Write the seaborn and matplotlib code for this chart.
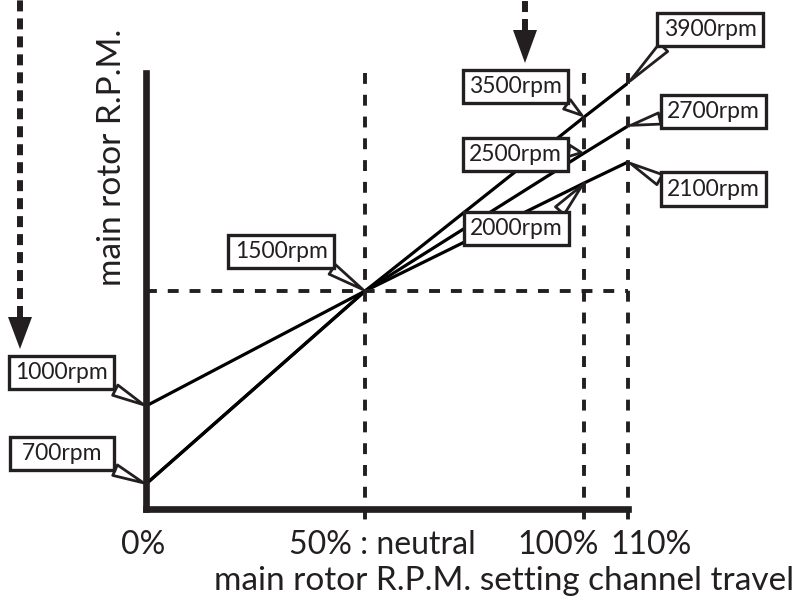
import matplotlib
matplotlib.use("Agg")
import pandas as pd
import matplotlib.pyplot as plt
from matplotlib.lines import Line2D
from matplotlib.patches import Polygon
import seaborn as sns

# channel travel (%) of the curve points
travel = [0, 50, 100, 110]
tick_labels = ["0%", "50% : neutral", "100%", "110%"]

# rpm at each travel point, one list per curve
rpm_high = [700, 1500, 3500, 3900]
rpm_mid = [700, 1500, 2500, 2700]
rpm_low = [1000, 1500, 2000, 2100]

# height of each point on the (unscaled) rpm axis
level_high = [25, 218, 392, 426]
level_mid = [25, 218, 356, 383]
level_low = [103, 218, 326, 347]
level_top = 436

# label box placement: rpm -> (dx px, dy px, wedge start on box)
callouts = {
    700: (-84, 30.5, (0.93, 0)),
    1000: (-84.5, 33.5, (0.93, 0)),
    1500: (-84, 39.5, (0.93, 0)),
    3500: (-69, 30.5, (0.95, 0)),
    2500: (-69, -1.5, (1, 0.72)),
    2000: (-68, -45.5, (0.9, 1)),
    3900: (82, 53.5, (0.08, 0)),
    2700: (85.5, 14.5, (0, 0.25)),
    2100: (85.5, -27, (0, 0.75)),
}
tick_dx = [-3, 17, -26, 23]

rows = []
for name, rpms, levels in [("high", rpm_high, level_high),
                           ("mid", rpm_mid, level_mid),
                           ("low", rpm_low, level_low)]:
    for t, r, l in zip(travel, rpms, levels):
        rows.append({"curve": name, "travel": t, "rpm": r, "level": l})
df = pd.DataFrame(rows)

sns.set_theme(style="white")
plt.rcParams["font.family"] = ["Lato", "DejaVu Sans"]
ink = "#231f20"

W, H = 798, 604
fig = plt.figure(figsize=(W / 100, H / 100), dpi=100)
ax = fig.add_axes([146 / W, (H - 509) / H, 482 / W, 436 / H])
ax.set_xlim(0, 110)
ax.set_ylim(0, level_top)

sns.lineplot(data=df, x="travel", y="level", units="curve", estimator=None,
             color="black", linewidth=2.3, sort=False, ax=ax, legend=False)

# dashed guides
guide = dict(color=ink, linewidth=2.8, linestyle=(0, (2.8, 2.8)), clip_on=False)
neutral = level_high[1]
ax.plot([0, travel[-1]], [neutral, neutral], **guide)
for t in travel[1:]:
    ax.plot([t, t], [level_top, -14], **guide)

for s in ["top", "right"]:
    ax.spines[s].set_visible(False)
for s in ["left", "bottom"]:
    ax.spines[s].set_linewidth(4.8)
    ax.spines[s].set_color(ink)
ax.set_xticks([])
ax.set_yticks([])

# tick labels under the axis
for t, lab, dx in zip(travel, tick_labels, tick_dx):
    ax.annotate(lab, xy=(t, 0), xycoords=ax.get_xaxis_transform(),
                xytext=(dx, -21), textcoords="offset pixels",
                ha="center", va="top", fontsize=23, color=ink)

ax.set_xlabel("main rotor R.P.M. setting channel travel", fontsize=24, color=ink)
ax.xaxis.set_label_coords(0.743, -0.13)
ax.set_ylabel("main rotor R.P.M.", fontsize=24, color=ink)
ax.yaxis.set_label_coords(-0.04, 0.806)

# rpm call-out boxes
done = set()
for _, row in df.iterrows():
    r = row["rpm"]
    if r in done:
        continue
    done.add(r)
    dx, dy, rel = callouts[r]
    txt = f"{r}rpm"
    if len(txt) < 7:
        txt = f" {txt} "
    ax.annotate(txt, xy=(row["travel"], row["level"]), xytext=(dx, dy),
                textcoords="offset pixels", ha="center", va="center",
                fontsize=16.5, color=ink, annotation_clip=False,
                bbox=dict(boxstyle="square,pad=0.27", fc="white", ec=ink, lw=2.4),
                arrowprops=dict(arrowstyle="wedge,tail_width=0.5", fc="white",
                                ec=ink, lw=2.0, relpos=rel,
                                shrinkA=0, shrinkB=2))


# decorative dashed arrows at the figure edges
def fx(x, y):
    return (x / W, 1 - y / H)


def dashed_arrow(x, y_head, head_len=32, head_w=24):
    p0 = fx(x, y_head)
    p1 = fx(x, 0)
    fig.add_artist(Line2D([p0[0], p1[0]], [p0[1], p1[1]], transform=fig.transFigure,
                          color=ink, linewidth=4.3,
                          linestyle=(0, (1.84, 1.17))))
    tri = [fx(x - head_w / 2, y_head), fx(x + head_w / 2, y_head), fx(x, y_head + head_len)]
    fig.add_artist(Polygon(tri, closed=True, transform=fig.transFigure,
                           fc=ink, ec="none"))


dashed_arrow(20, 317)
dashed_arrow(525, 30, head_len=33)

fig.savefig("out.png", dpi=100)
